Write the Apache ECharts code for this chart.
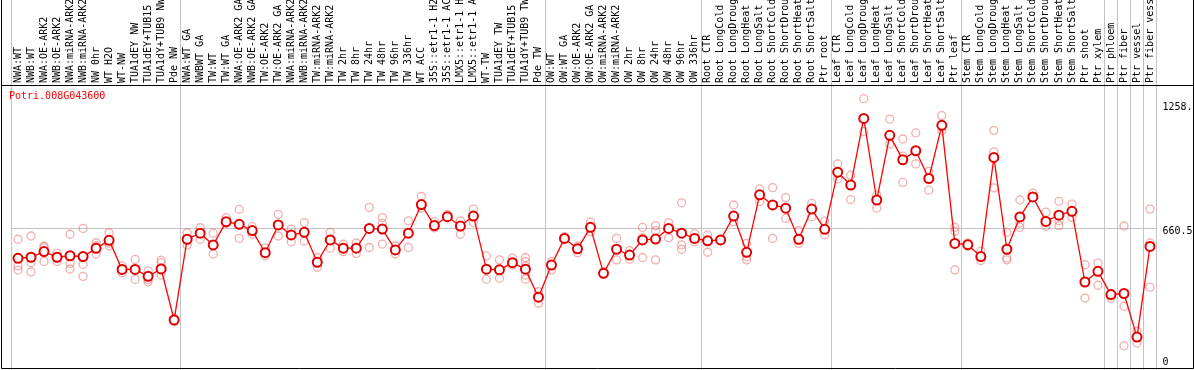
<!DOCTYPE html>
<html>
<head>
<meta charset="utf-8">
<script src="https://cdn.jsdelivr.net/npm/echarts@6/dist/echarts.min.js"></script>
<style>
  html, body { margin: 0; padding: 0; background: #fff; }
  #chart { width: 1194px; height: 370px; }
</style>
</head>
<body>
<div id="chart"></div>
<script>
  // sample names, in plot order
  var categories = [
    'NWA:WT', 'NWB:WT', 'NWA:OE-ARK2', 'NWB:OE-ARK2', 'NWA:miRNA-ARK2', 'NWB:miRNA-ARK2',
    'NW 0hr', 'WT H2O', 'WT-NW', 'TUA1dEY NW', 'TUA1dEY+TUB15 NW', 'TUA1dY+TUB9 NW', 'Pde NW',
    'NWA:WT GA', 'NWBWT GA', 'TW:WT', 'TW:WT GA', 'NWA:OE-ARK2 GA', 'NWB:OE-ARK2 GA',
    'TW:OE-ARK2', 'TW:OE-ARK2 GA', 'NWA:miRNA-ARK2 GA', 'NWB:miRNA-ARK2 GA', 'TW:miRNA-ARK2',
    'TW:miRNA-ARK2 GA', 'TW 2hr', 'TW 8hr', 'TW 24hr', 'TW 48hr', 'TW 96hr', 'TW 336hr', 'WT ACC',
    '35S::etr1-1 H2O', '35S::etr1-1 ACC', 'LMX5::etr1-1 H2O', 'LMX5::etr1-1 ACC', 'WT-TW',
    'TUA1dEY TW', 'TUA1dEY+TUB15 TW', 'TUA1dY+TUB9 TW', 'Pde TW',
    'OW:WT', 'OW:WT GA', 'OW:OE-ARK2', 'OW:OE-ARK2 GA', 'OW:miRNA-ARK2', 'OW:miRNA-ARK2 GA',
    'OW 2hr', 'OW 8hr', 'OW 24hr', 'OW 48hr', 'OW 96hr', 'OW 336hr',
    'Root CTR', 'Root LongCold', 'Root LongDrought', 'Root LongHeat', 'Root LongSalt',
    'Root ShortCold', 'Root ShortDrought', 'Root ShortHeat', 'Root ShortSalt', 'Ptr root',
    'Leaf CTR', 'Leaf LongCold', 'Leaf LongDrought', 'Leaf LongHeat', 'Leaf LongSalt',
    'Leaf ShortCold', 'Leaf ShortDrought', 'Leaf ShortHeat', 'Leaf ShortSalt', 'Ptr leaf',
    'Stem CTR', 'Stem LongCold', 'Stem LongDrought', 'Stem LongHeat', 'Stem LongSalt',
    'Stem ShortCold', 'Stem ShortDrought', 'Stem ShortHeat', 'Stem ShortSalt', 'Ptr shoot',
    'Ptr xylem', 'Ptr phloem', 'Ptr fiber', 'Ptr vessel', 'Ptr fiber vessel'
  ];

  // first category index of each experiment block (divider lines)
  var groupStarts = [0, 13, 41, 53, 63, 73, 84, 85, 86, 87];

  var meanValues = [
    522, 527, 553, 527, 534, 530, 568, 605, 471, 471, 439, 473, 238,
    610, 638, 584, 691, 679, 650, 548, 676, 630, 642, 504, 607, 569, 569, 660, 657, 561,
    638, 770, 673, 714, 671, 717, 472, 469, 502, 472, 343,
    491, 614, 566, 665, 453, 564, 537, 607, 611, 660, 638, 614,
    603, 607, 717, 550, 815, 768, 753, 610, 749, 656,
    919, 860, 1167, 791, 1089, 976, 1018, 890, 1135, 591,
    585, 530, 987, 564, 713, 805, 692, 721, 739, 413, 462,
    355, 360, 159, 577
  ];

  // individual replicates per sample
  var replicates = [
    [610, 487, 468], [625, 502, 459], [579, 572, 508], [545, 508], [633, 499, 473],
    [660, 494, 439], [594, 580, 542], [640, 592, 580], [487, 456, 471], [517, 425],
    [464, 414, 424], [514, 502, 445], [245, 230],
    [640, 583], [663, 610], [638, 542], [710, 683], [748, 614], [668, 634], [569, 533],
    [725, 625], [657, 599], [687, 602], [526, 481], [642, 569], [587, 553], [592, 545],
    [757, 572], [710, 683, 588], [579, 542], [695, 572], [807, 753], [691, 663], [725, 710],
    [695, 633], [749, 687], [533, 426], [515, 430], [523, 491], [526, 507, 485, 445, 426],
    [368, 315],
    [507, 469], [622], [579, 548], [689, 645], [461], [614, 515], [558, 518], [665, 617, 526],
    [673, 650, 515], [687, 617], [778, 584, 564], [636, 599],
    [630, 550], [610, 603], [768, 691], [591, 515, 529], [842, 783], [848, 614], [802, 706],
    [650, 591], [775, 714], [694, 630],
    [957, 888], [905, 793], [1258, 1107], [813, 754], [1164, 1049], [1072, 993, 872],
    [1100, 957], [923, 836], [1180, 1110], [665, 647, 469],
    [593, 578], [555, 512], [1112, 1013, 847], [642, 524, 515], [791, 685, 665], [823],
    [735, 670], [785, 695, 673], [772, 711], [493, 339], [501, 398],
    [360, 339], [671, 301, 119], [186, 132], [749, 593, 389]
  ];

  var geneName = 'Potri.008G043600';
  var yMax = 1321;
  var yLabelValues = [0, 660.5, 1258];

  var repPoints = [];
  replicates.forEach(function (reps, i) {
    reps.forEach(function (v) { repPoints.push([i, v]); });
  });

  function isGroupEdge(index) {
    return groupStarts.indexOf(index) >= 0;
  }

  var monoFont = 'DejaVu Sans Mono';
  var gridGray = '#c4c4c4';

  var chart = echarts.init(document.getElementById('chart'));
  var option = {
    animation: false,
    backgroundColor: '#fff',
    title: {
      text: geneName,
      left: 9,
      top: 91,
      padding: 0,
      textStyle: { color: '#ff0000', fontSize: 10, fontFamily: monoFont, fontWeight: 'normal' }
    },
    grid: [
      { left: 11.5, right: 37.5, top: 0, height: 85, outerBoundsMode: 'none', containLabel: false },
      { left: 11.5, right: 37.5, top: 85, height: 286.6, outerBoundsMode: 'none', containLabel: false }
    ],
    xAxis: [
      {
        gridIndex: 0, type: 'category', data: categories, boundaryGap: true,
        axisLine: { show: false }, axisTick: { show: false }, axisLabel: { show: false },
        splitLine: { show: true, interval: isGroupEdge, lineStyle: { color: gridGray, width: 1 } }
      },
      {
        gridIndex: 1, type: 'category', data: categories, boundaryGap: true, position: 'top',
        axisLine: { show: false }, axisTick: { show: false },
        axisLabel: {
          interval: 0, rotate: 90, margin: 2,
          fontSize: 10, fontFamily: monoFont, color: '#000'
        },
        splitLine: { show: true, interval: isGroupEdge, lineStyle: { color: gridGray, width: 1 } }
      }
    ],
    yAxis: [
      { gridIndex: 0, type: 'value', show: false },
      {
        gridIndex: 1, type: 'value', position: 'right', min: 0, max: yMax, interval: yMax / 2,
        axisLine: { show: false }, axisTick: { show: false },
        splitLine: { show: true, lineStyle: { color: gridGray, width: 1 } },
        axisLabel: {
          customValues: yLabelValues,
          margin: 6,
          formatter: function (v) {
            if (v === 0) return '{b|0}';
            if (v === 1258) return '{t|1258.}';
            return '{m|' + v + '}';
          },
          rich: {
            b: { fontSize: 10, fontFamily: monoFont, color: '#000', padding: [0, 0, 19, 0] },
            m: { fontSize: 10, fontFamily: monoFont, color: '#000', padding: [7, 0, 0, 0] },
            t: { fontSize: 10, fontFamily: monoFont, color: '#000', padding: [18, 0, 0, 0] }
          }
        }
      }
    ],
    graphic: [
      {
        type: 'rect', z: 100, silent: true,
        shape: { x: 1.5, y: -5, width: 1192, height: 373.5 },
        style: { fill: null, stroke: '#000', lineWidth: 1 }
      },
      {
        type: 'line', z: 100, silent: true,
        shape: { x1: 1.5, y1: 85.5, x2: 1193.5, y2: 85.5 },
        style: { stroke: '#000', lineWidth: 1 }
      }
    ],
    series: [
      {
        type: 'scatter', xAxisIndex: 1, yAxisIndex: 1,
        data: repPoints,
        symbol: 'circle', symbolSize: 8,
        itemStyle: { color: 'rgba(0,0,0,0)', borderColor: 'rgba(232,110,110,0.7)', borderWidth: 1.3 },
        z: 2
      },
      {
        type: 'line', xAxisIndex: 1, yAxisIndex: 1,
        data: meanValues,
        symbol: 'emptyCircle', symbolSize: 9, showAllSymbol: true,
        lineStyle: { color: '#ff0000', width: 1.3 },
        itemStyle: { color: '#e00000', borderWidth: 1.6 },
        z: 3
      }
    ]
  };
  chart.setOption(option);
</script>
</body>
</html>
